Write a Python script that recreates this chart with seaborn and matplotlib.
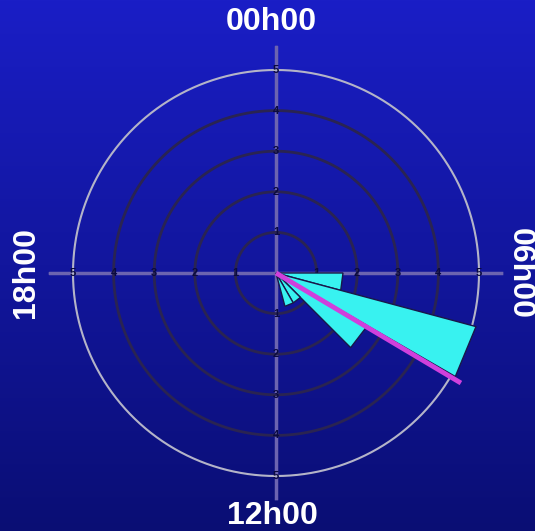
import numpy as np
import seaborn as sns
import matplotlib
matplotlib.use("Agg")
import matplotlib.pyplot as plt

####Data (hour of day bins, relative frequency)
bin_start_hour = [6, 7, 8, 9, 10]
bin_value = [0.33, 1.02, 0.52, 0.17, 0.17]
mean_hour = 8.05
mean_length = 1.06
ring_values = [0.2, 0.4, 0.6, 0.8, 1.0]
ring_labels = ["1", "2", "3", "4", "5"]
hour_labels = ["00h00", "06h00", "12h00", "18h00"]
label_hours = [0, 6, 12, 18]

sns.set_style("white")
plt.rcParams["font.family"] = ["Liberation Sans", "DejaVu Sans"]

def h2r(h):
    return np.asarray(h, dtype=float) * 2 * np.pi / 24

fig = plt.figure(figsize=(5.35, 5.31), dpi=100)

####Background gradient
bg = fig.add_axes([0, 0, 1, 1])
grad = np.linspace(0, 1, 256)[:, None]
top = np.array([26, 30, 198]) / 255
bot = np.array([10, 14, 116]) / 255
img = top[None, None, :] * (1 - grad[:, :, None]) + bot[None, None, :] * grad[:, :, None]
bg.imshow(img, aspect="auto", extent=[0, 1, 0, 1])
bg.set_axis_off()

####Polar axes: centre (276,273) px, outer ring 203 px
rmax = 1.12
W, H = 535, 531
R = 203 * rmax
ax = fig.add_axes([(276 - R) / W, (H - 273 - R) / H, 2 * R / W, 2 * R / H], projection="polar")
ax.set_theta_zero_location("N")
ax.set_theta_direction(-1)
ax.set_ylim(0, rmax)
ax.set_axis_off()
ax.patch.set_alpha(0)

full = np.linspace(0, 2 * np.pi, 361)
for rv in ring_values:
    if rv == ring_values[-1]:
        ax.plot(full, np.full_like(full, rv), color="#b4b4c8", lw=1.5, zorder=2)
    else:
        ax.plot(full, np.full_like(full, rv), color="#2a2452", lw=2.0, zorder=2)

for h in label_hours:
    ax.plot([h2r(h), h2r(h)], [0, rmax], color="#6c64b0", lw=2.5, zorder=1)
    for rv, lab in zip(ring_values, ring_labels):
        ax.text(h2r(h), rv, lab, color="#0a0a40", fontsize=8, fontweight="bold",
                ha="center", va="center", zorder=3)

####Wedges (drawn as triangles)
for h, v in zip(bin_start_hour, bin_value):
    th = h2r([h, h, h + 1])
    ax.fill(th, [0, v, v], facecolor="#38f2f0", edgecolor="#18184a", lw=1.0, zorder=4)

####Mean direction
ax.plot(h2r([mean_hour, mean_hour]), [0, mean_length], color="#d040dc", lw=3.5,
        solid_capstyle="butt", zorder=6)

####Hour labels
fs = 23
fig.text(271 / W, 1 - 22 / H, hour_labels[0], color="white", fontsize=fs, fontweight="bold",
         ha="center", va="center")
fig.text(272 / W, 1 - 516 / H, hour_labels[2], color="white", fontsize=fs, fontweight="bold",
         ha="center", va="center")
fig.text(520 / W, 1 - 273 / H, hour_labels[1], color="white", fontsize=fs, fontweight="bold",
         ha="center", va="center", rotation=-90)
fig.text(26 / W, 1 - 273 / H, hour_labels[3], color="white", fontsize=fs, fontweight="bold",
         ha="center", va="center", rotation=90)

fig.savefig("out.png", dpi=100)
